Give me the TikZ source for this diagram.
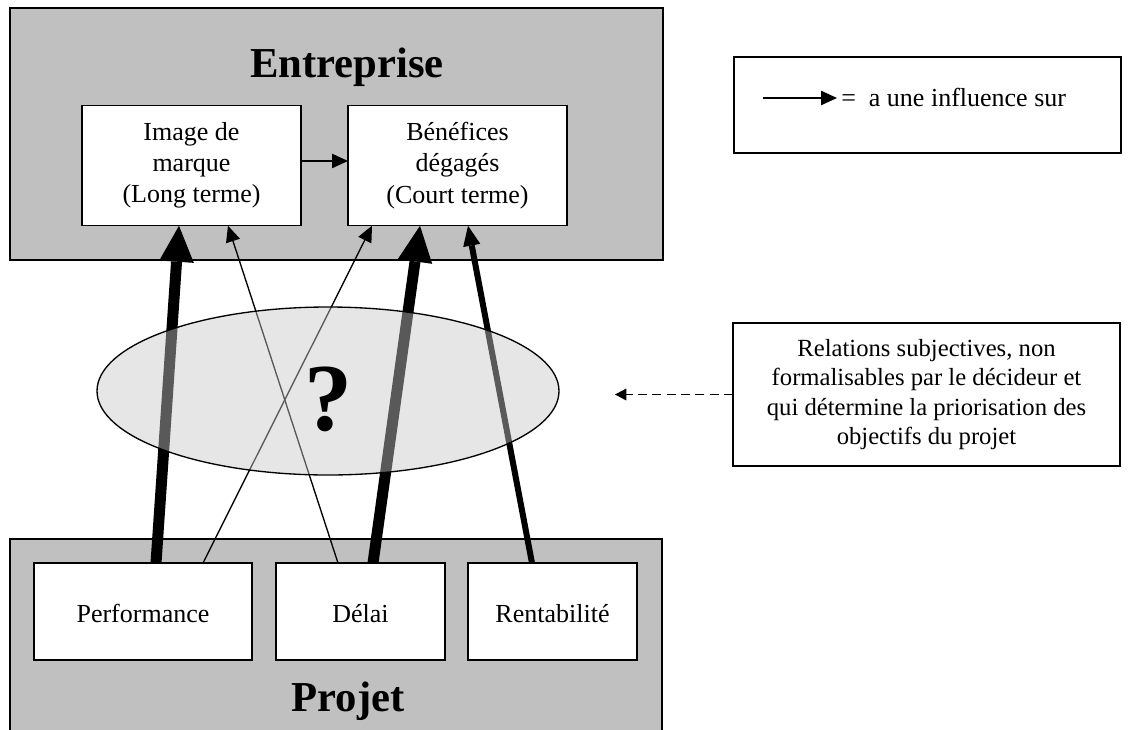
\documentclass[tikz,border=0pt]{standalone}
\usepackage{fontspec}
\setmainfont{Liberation Serif}
\usetikzlibrary{arrows.meta,shapes.geometric}

\begin{document}
\begin{tikzpicture}[x=0.75pt,y=0.75pt,yscale=-1,xscale=1,
  zone/.style={fill={rgb,255:red,192;green,192;blue,192}},
  boite/.style={draw=black,line width=1pt,fill=white,inner sep=0pt,outer sep=0pt,align=center,font=\fontsize{19.5}{23.4}\selectfont},
  objectif/.style={boite,minimum height=72.75pt,text height=17pt,text depth=0pt},
  titre/.style={anchor=base,inner sep=0pt,font=\fontsize{32}{38}\selectfont\bfseries},
  fine/.style={line width=1pt,-{Triangle[length=12pt,width=11pt,line width=0pt]}},
  moyenne/.style={line width=4.5pt,-{Triangle[length=15pt,width=13pt,line width=0pt]}},
  epaisse/.style={line width=8.25pt,-{Triangle[length=27pt,width=26pt,line width=0pt]}},
  pointille/.style={line width=1.1pt,dash pattern=on 6.75pt off 4pt,-{Triangle[length=8.5pt,width=9pt,line width=0pt]}}]
\useasboundingbox (0,0) rectangle (1136,729);
%Shape: Rectangle [Entreprise]
\draw [zone,line width=1pt] (10,8) rectangle (663,260);
%Shape: Rectangle [Projet]
\path [zone] (10,539) rectangle (662,735);
\draw [line width=1pt] (10,735) -- (10,539) -- (662,539) -- (662,735);
% Text Node
\node [titre] (entreprise) at (347,77) {Entreprise};
\node [titre] (projet) at (348,711) {Projet};
% Boxes
\node [boite,minimum width=164.25pt,minimum height=90.4pt] (image) at (191.5,165.5) {Image de\\marque\\(Long terme)};
\node [boite,minimum width=164.25pt,minimum height=90.4pt] (benefices) at (457.5,165.5) {Bénéfices\\dégagés\\(Court terme)};
\node [objectif,minimum width=163.5pt] (performance) at (143,611.5) {Performance};
\node [objectif,minimum width=126.75pt] (delai) at (360.5,611.5) {Délai};
\node [objectif,minimum width=126.75pt] (rentabilite) at (552.5,611.5) {Rentabilité};
%Straight Lines
\draw [fine] ([yshift=-3.4pt]image.east) -- ([yshift=-3.4pt]benefices.west);
\draw [epaisse] ([xshift=9.75pt]performance.north) -- ([xshift=-9.375pt]image.south);
\draw [fine] ([xshift=45pt]performance.north) -- ([xshift=-64.125pt]benefices.south);
\draw [fine] ([xshift=-16.875pt]delai.north) -- ([xshift=27.375pt]image.south);
\draw [epaisse] ([xshift=9.375pt]delai.north) -- ([xshift=-28.125pt]benefices.south);
\draw [moyenne] ([xshift=-15.375pt]rentabilite.north) -- ([xshift=7.875pt]benefices.south);
%Shape: Ellipse
\node [ellipse,draw=black,line width=1pt,fill=black!22,fill opacity=0.45,draw opacity=1,inner sep=0pt,minimum width=346.5pt,minimum height=126pt] (relations zone) at (328,391) {};
\node [anchor=base,inner sep=0pt,font=\fontsize{72}{80}\selectfont\bfseries] (question) at (328,430) {?};
% Legend
\node [draw=black,line width=1pt,inner sep=0pt,minimum width=290.25pt,minimum height=72pt] (legende) at (927.5,105) {};
\coordinate (legdebut) at (763,98);
\coordinate (legfin) at (837,98);
\draw [fine] (legdebut) -- (legfin);
\node [anchor=base west,inner sep=0pt,font=\fontsize{19.5}{23.4}\selectfont] (legtexte) at (841,106) {=\ \ a une influence sur};
% Relations
\node [boite,minimum width=290.25pt,minimum height=107.25pt,font=\fontsize{18.5}{22}\selectfont] (relations) at (926.5,394.5) {Relations subjectives, non\\formalisables par le décideur et\\qui détermine la priorisation des\\objectifs du projet};
\coordinate (pointe) at (615,394.5);
\draw [pointille] (relations.west) -- (pointe);
\end{tikzpicture}
\end{document}
